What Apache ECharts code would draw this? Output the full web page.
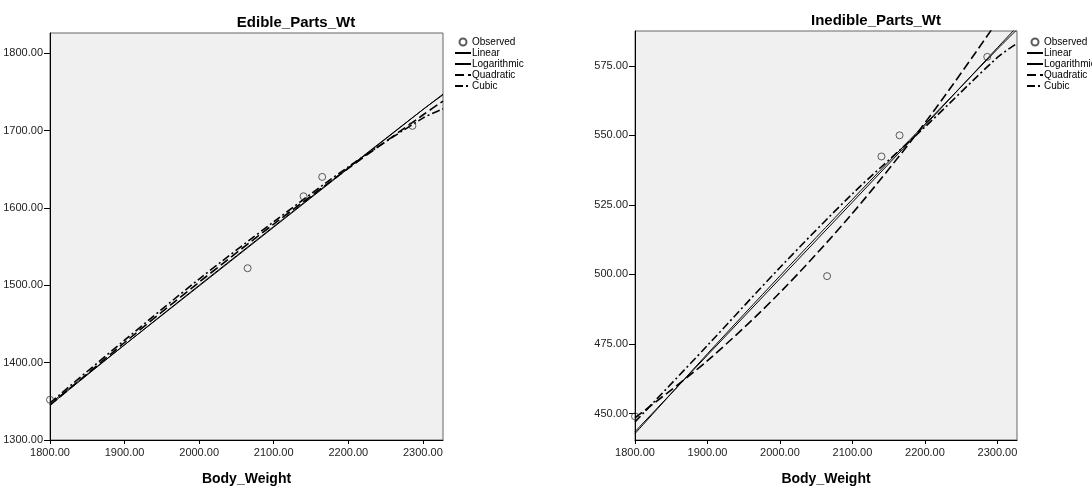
<!DOCTYPE html>
<html>
<head>
<meta charset="utf-8">
<script src="https://cdn.jsdelivr.net/npm/echarts@6/dist/echarts.min.js"></script>
<style>
  html, body { margin: 0; padding: 0; background: #fff; }
  #chart { width: 1092px; height: 491px; }
</style>
</head>
<body>
<div id="chart"></div>
<script>
// observed points
const bodyWeight = [1800, 2065, 2140, 2165, 2286];
const edibleObs = [1352, 1522, 1615, 1640, 1706];
const inedibleObs = [449, 499.4, 542.4, 550.0, 578.2];

// fitted curves at these x values
const fitX = [1800, 1900, 2000, 2100, 2200, 2300, 2327];
const edibleLinear = [1347, 1423, 1499, 1575, 1651, 1727, 1747];
const edibleLog = [1345, 1423, 1500, 1576, 1652, 1727, 1746];
const edibleQuad = [1345, 1426, 1504, 1579, 1651, 1720, 1738];
const edibleCubic = [1348, 1429, 1508, 1582, 1653, 1716, 1728];

const inedibleLinear = [443.5, 471, 498.5, 526, 553.5, 581.5, 589];
const inedibleLog = [442.8, 471.5, 499.5, 527, 554, 581, 588];
const inedibleQuad = [448.5, 469, 493.5, 522, 554.5, 591, 602];
const inedibleCubic = [447, 474.5, 502.5, 529, 553, 578, 583];

// tick labels
const xTicks = [1800, 1900, 2000, 2100, 2200, 2300];
const edibleTicks = [1300, 1400, 1500, 1600, 1700, 1800];
const inedibleTicks = [450, 475, 500, 525, 550, 575];

const FONT = 'Liberation Sans, Arial, sans-serif';
const legendNames = ['Observed', 'Linear', 'Logarithmic', 'Quadratic', 'Cubic'];

function pairs(xs, ys) {
    let out = [];
    for (let i = 0; i < xs.length; i++) out.push([xs[i], ys[i]]);
    return out;
}

function xAxis(gridIndex) {
    return {
        type: 'value', gridIndex: gridIndex, min: 1800, max: 2327,
        name: 'Body_Weight', nameLocation: 'middle', nameGap: 32,
        nameTextStyle: { fontSize: 14, fontWeight: 'bold', color: '#000', fontFamily: FONT },
        axisLine: { show: true, onZero: false, lineStyle: { color: '#000', width: 1 } },
        axisTick: { show: true, length: 4, lineStyle: { color: '#000' }, customValues: xTicks },
        axisLabel: { margin: 7, fontSize: 11, color: '#222', fontFamily: FONT,
            customValues: xTicks, formatter: v => v.toFixed(2) },
        splitLine: { show: false }
    };
}

function yAxis(gridIndex, min, max, ticks) {
    return {
        type: 'value', gridIndex: gridIndex, min: min, max: max,
        axisLine: { show: true, onZero: false, lineStyle: { color: '#000', width: 1 } },
        axisTick: { show: true, length: 6, lineStyle: { color: '#000' }, customValues: ticks },
        axisLabel: { margin: 7, fontSize: 11, color: '#222', fontFamily: FONT,
            customValues: ticks, formatter: v => v.toFixed(2) },
        splitLine: { show: false }
    };
}

function fitSeries(name, idx, ys, style) {
    return {
        name: name, type: 'line', xAxisIndex: idx, yAxisIndex: idx, color: '#000',
        data: pairs(fitX, ys), symbol: 'none', smooth: name === 'Linear' ? false : 0.3,
        lineStyle: style, z: 3, silent: true
    };
}

const solid = { color: '#000', width: 1, type: 'solid' };
const dashed = { color: '#000', width: 1.6, type: [9, 4] };
const dashDot = { color: '#000', width: 1.6, type: [8, 3, 2, 3] };

function observed(idx, ys) {
    return {
        name: 'Observed', type: 'scatter', xAxisIndex: idx, yAxisIndex: idx,
        data: pairs(bodyWeight, ys), symbol: 'circle', symbolSize: 7, z: 4,
        itemStyle: { color: 'rgba(0,0,0,0)', borderColor: '#333', borderWidth: 1 }
    };
}

function legend(left) {
    let data = legendNames.map(n => n === 'Observed'
        ? { name: n }
        : { name: n, itemStyle: { opacity: 0 } });
    return {
        orient: 'vertical', left: left, top: 32, itemGap: 1,
        itemWidth: 16, itemHeight: 7, data: data,
        textStyle: { fontSize: 10, color: '#000', fontFamily: FONT, padding: [0, 0, 0, -4] },
        selectedMode: false
    };
}

const chart = echarts.init(document.getElementById('chart'));
chart.setOption({
    backgroundColor: '#fff',
    animation: false,
    title: [
        { text: 'Edible_Parts_Wt', left: 291, top: 10, textAlign: 'center',
          textStyle: { fontSize: 15, fontWeight: 'bold', color: '#000', fontFamily: FONT } },
        { text: 'Inedible_Parts_Wt', left: 871, top: 8, textAlign: 'center',
          textStyle: { fontSize: 15, fontWeight: 'bold', color: '#000', fontFamily: FONT } }
    ],
    legend: [legend(449), legend(1021)],
    grid: [
        { left: 50, top: 33, width: 393, height: 409, show: true,
          backgroundColor: '#f0f0f0', borderColor: '#666', borderWidth: 1 },
        { left: 635, top: 31, width: 382, height: 412, show: true,
          backgroundColor: '#f0f0f0', borderColor: '#666', borderWidth: 1 }
    ],
    xAxis: [xAxis(0), xAxis(1)],
    yAxis: [yAxis(0, 1300, 1826, edibleTicks), yAxis(1, 440.5, 587.5, inedibleTicks)],
    series: [
        observed(0, edibleObs),
        fitSeries('Linear', 0, edibleLinear, solid),
        fitSeries('Logarithmic', 0, edibleLog, solid),
        fitSeries('Quadratic', 0, edibleQuad, dashed),
        fitSeries('Cubic', 0, edibleCubic, dashDot),
        observed(1, inedibleObs),
        fitSeries('Linear', 1, inedibleLinear, solid),
        fitSeries('Logarithmic', 1, inedibleLog, solid),
        fitSeries('Quadratic', 1, inedibleQuad, dashed),
        fitSeries('Cubic', 1, inedibleCubic, dashDot)
    ]
});
</script>
</body>
</html>
